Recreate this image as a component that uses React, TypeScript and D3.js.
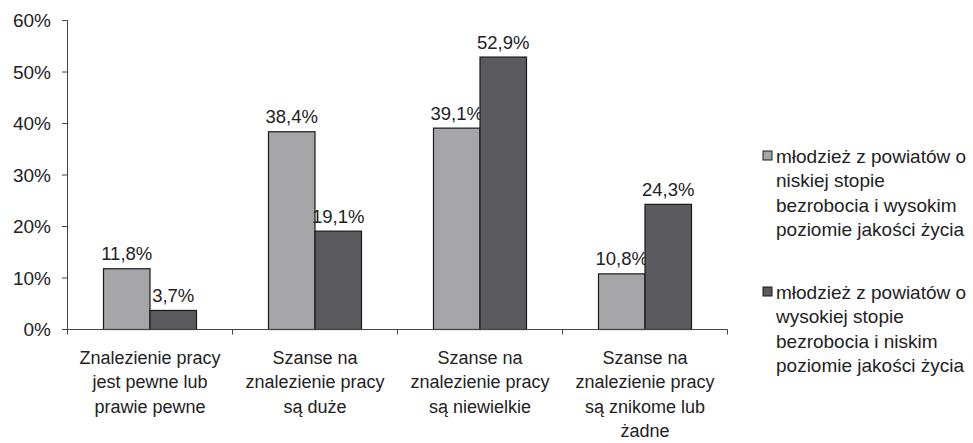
import React from 'react';
import * as d3 from 'd3';

const categories = [
  ['Znalezienie pracy', 'jest pewne lub', 'prawie pewne'],
  ['Szanse na', 'znalezienie pracy', 'są duże'],
  ['Szanse na', 'znalezienie pracy', 'są niewielkie'],
  ['Szanse na', 'znalezienie pracy', 'są znikome lub', 'żadne'],
];
const lowUnemployment = [11.8, 38.4, 39.1, 10.8];
const highUnemployment = [3.7, 19.1, 52.9, 24.3];
const yTicks = [0, 10, 20, 30, 40, 50, 60];
const seriesNames = [
  ['młodzież z powiatów o', 'niskiej stopie', 'bezrobocia i wysokim', 'poziomie jakości życia'],
  ['młodzież z powiatów o', 'wysokiej stopie', 'bezrobocia i niskim', 'poziomie jakości życia'],
];
const colors = ['#a6a6a9', '#5b5b5f'];

const W = 973;
const H = 443;
const font = '"Liberation Sans", Arial, sans-serif';

const App: React.FC = () => {
  const x = d3.scaleBand<number>().domain([0, 1, 2, 3]).range([67.5, 727.5]);
  const y = d3.scaleLinear().domain([0, 60]).range([329.5, 20.5]);
  const sub = d3.scaleBand<number>().domain([0, 1]).range([0, 93]);
  const barOffset = (x.bandwidth() - 93) / 2;
  const series = [lowUnemployment, highUnemployment];
  const fmt = (v: number) => v.toFixed(1).replace('.', ',') + '%';

  return (
    <div style={{ position: 'absolute', left: 0, top: 0 }}>
      <svg width={W} height={H} style={{ display: 'block', background: '#fff' }} fontFamily={font}>
        {/* y axis */}
        <line x1={67.5} x2={67.5} y1={y(60)} y2={y(0)} stroke="#444" />
        {yTicks.map(t => (
          <g key={t}>
            <line x1={62} x2={67.5} y1={y(t)} y2={y(t)} stroke="#444" />
            <text x={51} y={y(t)} dy="0.36em" textAnchor="end" fontSize={19} fill="#222">{t}%</text>
          </g>
        ))}
        {/* bars */}
        {series.map((s, si) =>
          s.map((v, ci) => {
            const bx = (x(ci) ?? 0) + barOffset + (sub(si) ?? 0);
            return (
              <g key={`${si}-${ci}`}>
                <rect x={bx} y={y(v)} width={sub.bandwidth()} height={y(0) - y(v)}
                  fill={colors[si]} stroke="#1a1a1a" strokeWidth={1.2} />
                <text x={bx + sub.bandwidth() / 2} y={y(v) - 8.5} textAnchor="middle" fontSize={18.5} fill="#222">{fmt(v)}</text>
              </g>
            );
          })
        )}
        {/* x axis */}
        <line x1={67.5} x2={727.5} y1={y(0)} y2={y(0)} stroke="#444" />
        {[0, 1, 2, 3, 4].map(i => {
          const tx = 67.5 + i * x.step();
          return <line key={i} x1={tx} x2={tx} y1={y(0)} y2={y(0) + 5} stroke="#444" />;
        })}
        {categories.map((lines, ci) => (
          <text key={ci} textAnchor="middle" fontSize={18} fill="#222">
            {lines.map((l, li) => (
              <tspan key={li} x={(x(ci) ?? 0) + x.bandwidth() / 2} y={364 + li * 24.4}>{l}</tspan>
            ))}
          </text>
        ))}
        {/* legend */}
        {seriesNames.map((lines, si) => {
          const top = 162.5 + si * 136;
          return (
            <g key={si}>
              <rect x={763} y={top - 11.5} width={9} height={9} fill={colors[si]} stroke="#1a1a1a" />
              <text fontSize={19} fill="#222">
                {lines.map((l, li) => (
                  <tspan key={li} x={776} y={top + li * 24.5}>{l}</tspan>
                ))}
              </text>
            </g>
          );
        })}
      </svg>
    </div>
  );
};

export default App;
